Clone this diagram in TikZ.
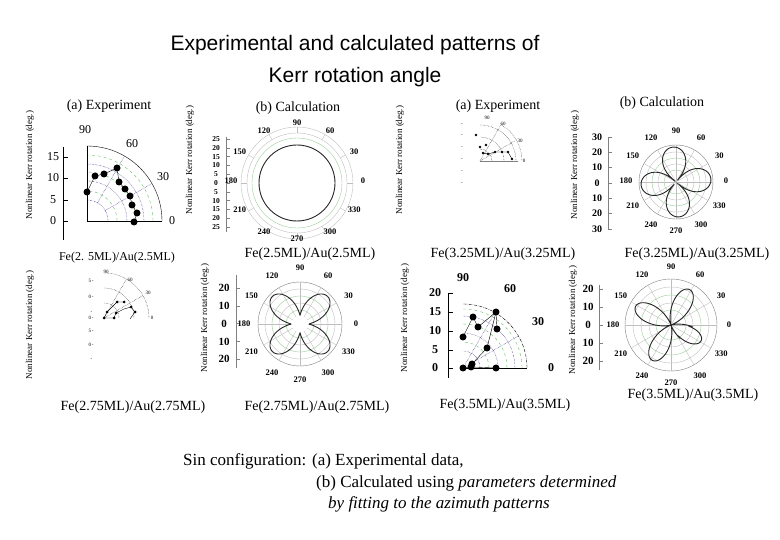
\documentclass[tikz,border=0pt]{standalone}
\usepackage{fontspec}
\usetikzlibrary{calc}
\setmainfont{Liberation Serif}
\newfontfamily\titlefont{Liberation Sans}
\begin{document}
\begin{tikzpicture}[x=1pt,y=-1pt,
  lab/.style={font=\fontsize{14}{16}\selectfont, inner sep=0},
  ylab/.style={font=\fontsize{9}{10}\selectfont, rotate=90, inner sep=0},
  tick/.style={font=\fontsize{12}{13}\selectfont\bfseries, inner sep=0},
  stick/.style={font=\fontsize{8.5}{9}\selectfont\bfseries, inner sep=0},
  tiny/.style={font=\fontsize{5}{5}\selectfont, inner sep=0},
  ring/.style={draw=blue!40!black, densely dotted},
  gring/.style={draw=green!60!black!60, dashed, thin},
  cgrid/.style={draw=gray!50, thin},
  dot/.style={circle, fill=black, inner sep=0, minimum size=7pt},
  curve/.style={draw=black!85, line width=0.9pt}]
\useasboundingbox (0,0) rectangle (780,540);
% title
\node[font=\titlefont\fontsize{21}{24}\selectfont] (t1) at (355,45) {Experimental and calculated patterns of};
\node[font=\titlefont\fontsize{21}{24}\selectfont] (t2) at (355,77) {Kerr rotation angle};

% ---------- panel 1: quarter polar ----------
\node[lab] (p1t) at (109,106) {(a) Experiment};
\node[ylab] (p1y) at (30,165) {Nonlinear Kerr rotation (deg.)};
\node[lab,font=\fontsize{12}{14}\selectfont] (p1c) at (117,258) {Fe(2. 5ML)/Au(2.5ML)};
\draw (63,147) -- (63,240);
\foreach \v/\yy in {15/157,10/178,5/200,0/221}{\node[tick,font=\fontsize{12}{13}\selectfont] at (53,\yy) {\v}; \draw (63,\yy)--(68,\yy);}
\begin{scope}[shift={(87,221)},yscale=-1]
  \foreach \r in {30,49,66}\draw[gring] (\r,0) arc (0:90:\r);
  \foreach \r in {21,40,57}\draw[ring] (\r,0) arc (0:90:\r);
  \draw (75,0) arc (0:90:75);
  \draw (0,0)--(75,0); \draw (0,0)--(0,75);
  \foreach \a in {30,60}\draw[ring] (\a:21)--(\a:75);
\end{scope}
\node[tick,font=\fontsize{12}{13}\selectfont] at (85,130) {90};
\node[tick,font=\fontsize{12}{13}\selectfont] at (132,144) {60};
\node[tick,font=\fontsize{12}{13}\selectfont] at (163,177) {30};
\node[tick,font=\fontsize{12}{13}\selectfont] at (172,221) {0};
\draw[thin] (87,192)--(95,176)--(104,174)--(117,168)--(119,182)--(125,189)--(130,196)--(132,205)--(137,213)--(134,222);
\foreach \p in {(87,192),(95,176),(104,174),(117,168),(119,182),(125,189),(130,196),(132,205),(137,213),(134,222)}\node[dot] at \p {};

% ---------- panel 2: circle ----------
\node[lab] (p2t) at (298,108) {(b) Calculation};
\node[ylab] (p2y) at (190,160) {Nonlinear Kerr rotation (deg.)};
\node[lab] (p2c) at (310,254) {Fe(2.5ML)/Au(2.5ML)};
\draw[gray] (226,137)--(226,232);
\foreach \v [count=\i from 0] in {25,20,15,10,5,0,5,10,15,20,25}{\node[font=\fontsize{7.5}{7.5}\selectfont\bfseries,inner sep=0] at (216,{139+\i*8.8}) {\v}; \draw[gray] (226,{139+\i*8.8})--(230,{139+\i*8.8});}
\begin{scope}[shift={(297,183)},yscale=-1]
  \draw[cgrid] (0,0) circle (56); \draw[cgrid] (0,0) circle (50);
  \draw[green!50!black!40,thin] (0,0) circle (45);
  \foreach \a in {0,30,...,330}\draw[cgrid] (\a:50)--(\a:56);
  \draw[curve] (0,0) circle (38);
\end{scope}
\foreach \a/\t in {90/90,60/60,30/30,0/0,330/330,300/300,270/270,240/240,210/210,180/180,150/150,120/120}
  \node[stick] at ($(297,183)+({66*cos(\a)},{-58*sin(\a)-2})$) {\t};

% ---------- panel 3: tiny experiment ----------
\node[lab] (p3t) at (498,106) {(a) Experiment};
\node[ylab] (p3y) at (400,160) {Nonlinear Kerr rotation (deg.)};
\node[lab] (p3c) at (503,254) {Fe(3.25ML)/Au(3.25ML)};
\begin{scope}[shift={(480,161)},yscale=-1]
  \foreach \r in {12,24,36}\draw[densely dotted,thin] (\r,0) arc (0:90:\r);
  \draw[densely dotted] (42,0) arc (0:60:42);
  \draw[thin,gray] (0,0)--(38,0);
  \draw[densely dotted] (0,0)--(30:40); \draw[densely dotted] (0,0)--(60:42);
  \draw[thin] (3,8)--(8,7)--(15,9)--(22,9)--(28,9)--(32,2);
  \foreach \p in {(-4,26),(3,8),(8,7),(15,9),(22,9),(28,9),(32,2),(0,14),(6,16)}\fill \p circle (1.3);
\end{scope}
\foreach \yy in {125,136,148,160,172,184}\node[tiny] at (462,\yy) {-};
\node[tiny] at (487,118) {90}; \node[tiny] at (503,124) {60}; \node[tiny] at (520,141) {30}; \node[tiny] at (524,161) {0};

% ---------- panel 4: four leaf ----------
\node[lab] (p4t) at (662,103) {(b) Calculation};
\node[ylab] (p4y) at (575,165) {Nonlinear Kerr rotation (deg.)};
\node[lab] (p4c) at (697,254) {Fe(3.25ML)/Au(3.25ML)};
\draw[gray] (608,137)--(608,230);
\foreach \v [count=\i from 0] in {30,20,10,0,10,20,30}{\node[stick,font=\fontsize{10}{10}\selectfont\bfseries] at (597,{137+\i*15.3}) {\v}; \draw[gray] (608,{137+\i*15.3})--(612,{137+\i*15.3});}
\begin{scope}[shift={(676,182)},yscale=-1]
  \foreach \r in {12,24}\draw[green!50!black!40,thin] (0,0) circle (\r);
  \draw[cgrid] (0,0) circle (18); \draw[cgrid] (0,0) circle (30);
  \draw[gray] (0,0) circle (37);
  \foreach \a in {0,30,...,330}\draw[cgrid] (0,0)--(\a:37);
  \draw[curve] plot[domain=0:360,samples=240,smooth] (\x:{35*abs(cos(2*(\x-5)))^0.6});
\end{scope}
\foreach \a/\t in {90/90,60/60,30/30,0/0,330/330,300/300,270/270,240/240,210/210,180/180,150/150,120/120}
  \node[stick] at ($(676,182)+({50*cos(\a)},{-50*sin(\a)-1})$) {\t};

% ---------- panel 5: tiny experiment ----------
\node[ylab] (p5y) at (30,325) {Nonlinear Kerr rotation (deg.)};
\node[lab] (p5c) at (133,407) {Fe(2.75ML)/Au(2.75ML)};
\begin{scope}[shift={(104,318)},yscale=-1]
  \foreach \r in {15,30,45}\draw[densely dotted,thin] (\r,0) arc (0:90:\r);
  \draw[densely dotted] (0,0)--(30:45); \draw[densely dotted] (0,0)--(60:45);
  \draw[thin] (0,0)--(10,0)--(12,5)--(20,9)--(27,11)--(31,6)--(26,-1);
  \draw[thin] (0,0)--(3,6)--(13,16)--(20,16);
  \foreach \p in {(0,0),(10,0),(3,6),(13,16),(20,16),(27,11),(31,6),(12,5)}\fill \p circle (1.5);
\end{scope}
\foreach \yy/\t in {281/5,297/0,313/,318/0,331/5,345/0,360/}\node[tiny] at (91,\yy) {\t\,-};
\node[tiny] at (106,272) {90}; \node[tiny] at (130,280) {60}; \node[tiny] at (148,293) {30}; \node[tiny] at (152,318) {0};

% ---------- panel 6: X shape ----------
\node[ylab] (p6y) at (205,318) {Nonlinear Kerr rotation (deg.)};
\node[lab] (p6c) at (317,407) {Fe(2.75ML)/Au(2.75ML)};
\draw[gray] (236,275)--(236,368);
\foreach \v [count=\i from 0] in {20,10,0,10,20}{\node[stick,font=\fontsize{11}{11}\selectfont\bfseries] at (224,{288+\i*17.8}) {\v}; \draw[gray] (236,{288+\i*17.8})--(240,{288+\i*17.8});}
\begin{scope}[shift={(300,324)},yscale=-1]
  \foreach \r in {14,28}\draw[green!50!black!40,thin] (0,0) circle (\r);
  \draw[cgrid] (0,0) circle (21); \draw[cgrid] (0,0) circle (35);
  \draw[gray] (0,0) circle (42);
  \foreach \a in {0,30,...,330}\draw[cgrid] (\a:8)--(\a:42);
  \draw[curve] plot[domain=0:360,samples=240,smooth] (\x:{9+30*abs(sin(2*\x))^1.3});
\end{scope}
\foreach \a/\t in {90/90,60/60,30/30,0/0,330/330,300/300,270/270,240/240,210/210,180/180,150/150,120/120}
  \node[stick] at ($(300,324)+({56*cos(\a)},{-56*sin(\a)})$) {\t};

% ---------- panel 7: quarter polar ----------
\node[ylab] (p7y) at (405,318) {Nonlinear Kerr rotation (deg.)};
\node[lab] (p7c) at (505,405) {Fe(3.5ML)/Au(3.5ML)};
\draw (448,293) -- (448,378);
\foreach \v/\yy in {20/293,15/312,10/331,5/350,0/368}{\node[tick] at (435,\yy) {\v}; \draw (448,\yy)--(453,\yy);}
\begin{scope}[shift={(463,368)},yscale=-1]
  \foreach \r in {26,44,59}\draw[gring] (\r,0) arc (0:90:\r);
  \foreach \r in {17,35,52}\draw[ring] (\r,0) arc (0:90:\r);
  \draw[densely dashdotted] (64,0) arc (0:90:64);
  \draw (0,0)--(64,0);
  \foreach \a in {30,60}\draw[ring] (0,0)--(\a:64);
\end{scope}
\node[tick] at (463,278) {90}; \node[tick] at (510,289) {60};
\node[tick] at (538,322) {30}; \node[tick] at (551,368) {0};
\draw[thin] (463,368)--(471,367)--(472,364)--(487,348)--(496,312);
\draw[thin] (496,368)--(471,367); \draw[thin] (496,312)--(497,329);
\draw[thin] (463,337)--(473,317)--(478,327)--(496,312);
\foreach \p in {(463,368),(471,367),(472,364),(487,348),(496,368),(497,329),(496,312),(478,327),(473,317),(463,337)}\node[dot] at \p {};

% ---------- panel 8: tilted leaves ----------
\node[ylab] (p8y) at (573,320) {Nonlinear Kerr rotation (deg.)};
\node[lab] (p8c) at (693,395) {Fe(3.5ML)/Au(3.5ML)};
\draw[gray] (599,285)--(599,370);
\foreach \v [count=\i from 0] in {20,10,0,10,20}{\node[stick,font=\fontsize{11}{11}\selectfont\bfseries] at (588,{289+\i*18}) {\v}; \draw[gray] (599,{289+\i*18})--(603,{289+\i*18});}
\begin{scope}[shift={(671,325)},yscale=-1]
  \foreach \r in {15,30}\draw[green!50!black!40,thin] (0,0) circle (\r);
  \draw[cgrid] (0,0) circle (22); \draw[cgrid] (0,0) circle (38);
  \draw[gray] (0,0) circle (46);
  \foreach \a in {0,30,...,330}\draw[cgrid] (0,0)--(\a:46);
  \draw[curve] plot[domain=0:360,samples=300,smooth] (\x:{(40-6*(cos(\x-330)>0.9))*abs(cos(2*(\x-62)))^1.6});
\end{scope}
\foreach \a/\t in {90/90,60/60,30/30,0/0,330/330,300/300,270/270,240/240,210/210,180/180,150/150,120/120}
  \node[stick] at ($(671,325)+({58*cos(\a)},{-58*sin(\a)})$) {\t};

% ---------- caption ----------
\node[anchor=west,font=\fontsize{17}{19}\selectfont,inner sep=0] (c1) at (183,461) {Sin configuration: (a) Experimental data,};
\node[anchor=west,font=\fontsize{17}{19}\selectfont,inner sep=0] (c2) at (316,483) {(b) Calculated using \textit{parameters determined}};
\node[anchor=west,font=\fontsize{17}{19}\selectfont\itshape,inner sep=0] (c3) at (328,504) {by fitting to the azimuth patterns};
\end{tikzpicture}
\end{document}
